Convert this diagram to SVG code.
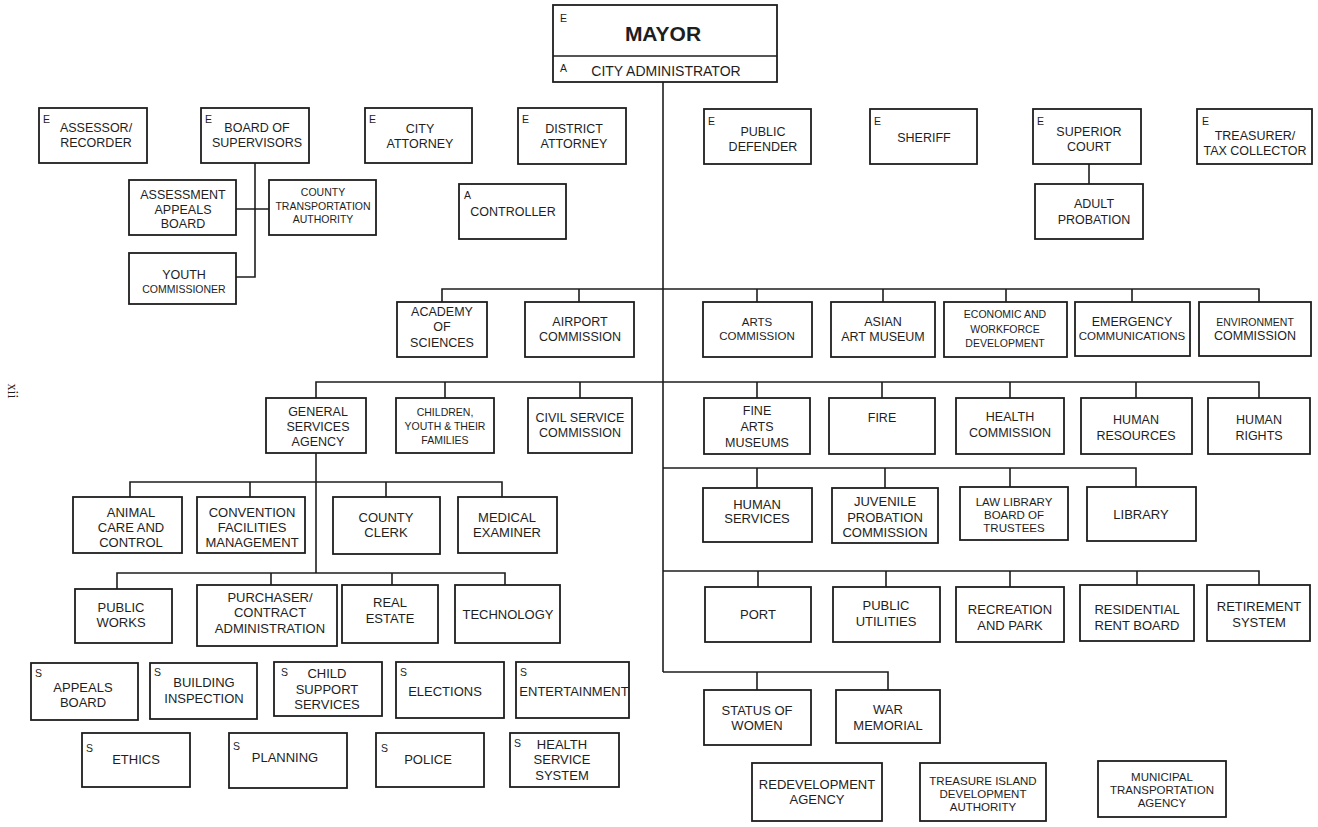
<svg xmlns="http://www.w3.org/2000/svg" width="1318" height="827" viewBox="0 0 1318 827">
<style>
rect{fill:#fff;stroke:#1e1e1e;stroke-width:1.8}
.c line,.c path{stroke:#1e1e1e;stroke-width:1.6;fill:none}
text{font-family:"Liberation Sans",Arial,sans-serif;fill:#1e1e1e;font-size:12.5px;text-anchor:middle}
.k{font-size:10.5px;text-anchor:start}
.sm{font-size:10.5px}
.md{font-size:11.5px}
.lg{font-size:13px}
</style>
<rect x="0" y="0" width="1318" height="827" style="stroke:none;fill:#fff"/>
<g class="c" id="connectors">
<line x1="663" y1="82" x2="663" y2="672"/>
<path d="M255 163V277H236M236 209H269"/>
<line x1="1089" y1="164" x2="1089" y2="184"/>
<path d="M442 302V289H1259V302M579 289V302M757 289V302M883 289V302M1006 289V302M1132 289V302"/>
<path d="M316 398V382H1259V398M445 382V398M580 382V398M757 382V398M882 382V398M1010 382V398M1136 382V398"/>
<path d="M316 453V573"/>
<path d="M130 497V482H502V497M250 482V497M386 482V497"/>
<path d="M117 589V573H505V585M271 573V585M392 573V585"/>
<path d="M663 468H1136V487M757 468V488M885 468V488M1010 468V487"/>
<path d="M663 571H1259V585M758 571V587M886 571V587M1010 571V587M1137 571V585"/>
<path d="M663 672H888V690M757 672V690"/>
</g>
<g id="mayor"><rect x="553" y="5" width="224" height="77"/><line x1="553" y1="56" x2="777" y2="56" style="stroke:#1e1e1e;stroke-width:1.6"/><text class="k" x="560" y="22">E</text><text x="663" y="41" style="font-size:21px;font-weight:bold">MAYOR</text><text class="k" x="560" y="72">A</text><text x="666" y="76" style="font-size:14px">CITY ADMINISTRATOR</text></g>
<g id="assessor"><rect x="39" y="108" width="108" height="55"/><text class="k" x="43" y="123">E</text><text x="96"><tspan x="96" y="132">ASSESSOR/</tspan><tspan x="96" y="147">RECORDER</tspan></text></g>
<g id="board"><rect x="201" y="108" width="108" height="55"/><text class="k" x="205" y="123">E</text><text><tspan x="257" y="132">BOARD OF</tspan><tspan x="257" y="147">SUPERVISORS</tspan></text></g>
<g id="cityattorney"><rect x="365" y="108" width="107" height="55"/><text class="k" x="369" y="123">E</text><text><tspan x="420" y="133">CITY</tspan><tspan x="420" y="148">ATTORNEY</tspan></text></g>
<g id="districtattorney"><rect x="518" y="108" width="108" height="56"/><text class="k" x="522" y="123">E</text><text><tspan x="574" y="133">DISTRICT</tspan><tspan x="574" y="148">ATTORNEY</tspan></text></g>
<g id="publicdefender"><rect x="704" y="109" width="107" height="55"/><text class="k" x="708" y="125">E</text><text><tspan x="763" y="136">PUBLIC</tspan><tspan x="763" y="151">DEFENDER</tspan></text></g>
<g id="sheriff"><rect x="870" y="109" width="107" height="55"/><text class="k" x="874" y="125">E</text><text x="924" y="142">SHERIFF</text></g>
<g id="superiorcourt"><rect x="1033" y="109" width="108" height="55"/><text class="k" x="1037" y="125">E</text><text><tspan x="1089" y="136">SUPERIOR</tspan><tspan x="1089" y="151">COURT</tspan></text></g>
<g id="treasurer"><rect x="1197" y="109" width="115" height="55"/><text class="k" x="1202" y="125">E</text><text><tspan x="1255" y="140">TREASURER/</tspan><tspan x="1255" y="155">TAX COLLECTOR</tspan></text></g>
<g id="adultprobation"><rect x="1035" y="184" width="108" height="55"/><text><tspan x="1094" y="208">ADULT</tspan><tspan x="1094" y="224">PROBATION</tspan></text></g>
<g id="assessmentappeals"><rect x="129" y="180" width="107" height="55"/><text><tspan x="183" y="199">ASSESSMENT</tspan><tspan x="183" y="213.5">APPEALS</tspan><tspan x="183" y="228">BOARD</tspan></text></g>
<g id="countytransportation"><rect x="269" y="180" width="107" height="55"/><text class="sm"><tspan x="323" y="196">COUNTY</tspan><tspan x="323" y="210">TRANSPORTATION</tspan><tspan x="323" y="223">AUTHORITY</tspan></text></g>
<g id="youth"><rect x="129" y="253" width="107" height="51"/><text><tspan x="184" y="279">YOUTH</tspan><tspan x="184" y="293" class="sm">COMMISSIONER</tspan></text></g>
<g id="controller"><rect x="459" y="184" width="107" height="55"/><text class="k" x="464" y="199">A</text><text x="513" y="216">CONTROLLER</text></g>
<g id="academy"><rect x="397" y="302" width="90" height="55"/><text><tspan x="442" y="316">ACADEMY</tspan><tspan x="442" y="331">OF</tspan><tspan x="442" y="347">SCIENCES</tspan></text></g>
<g id="airport"><rect x="525" y="302" width="109" height="55"/><text><tspan x="580" y="326">AIRPORT</tspan><tspan x="580" y="341">COMMISSION</tspan></text></g>
<g id="arts"><rect x="703" y="302" width="109" height="55"/><text class="md"><tspan x="757" y="326">ARTS</tspan><tspan x="757" y="340">COMMISSION</tspan></text></g>
<g id="asian"><rect x="831" y="302" width="104" height="55"/><text><tspan x="883" y="326">ASIAN</tspan><tspan x="883" y="341">ART MUSEUM</tspan></text></g>
<g id="economic"><rect x="944" y="302" width="123" height="55"/><text class="sm"><tspan x="1005" y="318">ECONOMIC AND</tspan><tspan x="1005" y="333">WORKFORCE</tspan><tspan x="1005" y="347">DEVELOPMENT</tspan></text></g>
<g id="emergency"><rect x="1075" y="302" width="115" height="54"/><text><tspan x="1132" y="326">EMERGENCY</tspan><tspan x="1132" y="340" class="md">COMMUNICATIONS</tspan></text></g>
<g id="environment"><rect x="1199" y="302" width="112" height="54"/><text><tspan x="1255" y="326" class="sm">ENVIRONMENT</tspan><tspan x="1255" y="340">COMMISSION</tspan></text></g>
<g id="gsa"><rect x="266" y="398" width="100" height="55"/><text><tspan x="318" y="416">GENERAL</tspan><tspan x="318" y="431">SERVICES</tspan><tspan x="318" y="446">AGENCY</tspan></text></g>
<g id="children"><rect x="396" y="398" width="98" height="55"/><text class="sm"><tspan x="445" y="416">CHILDREN,</tspan><tspan x="445" y="430">YOUTH &amp; THEIR</tspan><tspan x="445" y="444">FAMILIES</tspan></text></g>
<g id="civilservice"><rect x="528" y="398" width="104" height="55"/><text><tspan x="580" y="422">CIVIL SERVICE</tspan><tspan x="580" y="437">COMMISSION</tspan></text></g>
<g id="finearts"><rect x="704" y="398" width="106" height="56"/><text><tspan x="757" y="415">FINE</tspan><tspan x="757" y="431">ARTS</tspan><tspan x="757" y="447">MUSEUMS</tspan></text></g>
<g id="fire"><rect x="829" y="398" width="106" height="56"/><text x="882" y="422">FIRE</text></g>
<g id="health"><rect x="956" y="398" width="108" height="56"/><text><tspan x="1010" y="421">HEALTH</tspan><tspan x="1010" y="437">COMMISSION</tspan></text></g>
<g id="humanresources"><rect x="1081" y="398" width="111" height="56"/><text><tspan x="1136" y="424">HUMAN</tspan><tspan x="1136" y="440">RESOURCES</tspan></text></g>
<g id="humanrights"><rect x="1208" y="398" width="102" height="56"/><text><tspan x="1259" y="424">HUMAN</tspan><tspan x="1259" y="440">RIGHTS</tspan></text></g>
<g id="animal"><rect x="73" y="497" width="109" height="56"/><text class="lg"><tspan x="131" y="517">ANIMAL</tspan><tspan x="131" y="532">CARE AND</tspan><tspan x="131" y="547">CONTROL</tspan></text></g>
<g id="convention"><rect x="197" y="497" width="108" height="56"/><text class="lg"><tspan x="252" y="517">CONVENTION</tspan><tspan x="252" y="532">FACILITIES</tspan><tspan x="252" y="547">MANAGEMENT</tspan></text></g>
<g id="countyclerk"><rect x="333" y="497" width="107" height="57"/><text class="lg"><tspan x="386" y="522">COUNTY</tspan><tspan x="386" y="537">CLERK</tspan></text></g>
<g id="medical"><rect x="458" y="497" width="99" height="56"/><text class="lg"><tspan x="507" y="522">MEDICAL</tspan><tspan x="507" y="537">EXAMINER</tspan></text></g>
<g id="publicworks"><rect x="75" y="589" width="97" height="54"/><text class="lg"><tspan x="121" y="612">PUBLIC</tspan><tspan x="121" y="627">WORKS</tspan></text></g>
<g id="purchaser"><rect x="197" y="585" width="140" height="61"/><text class="lg"><tspan x="270" y="602">PURCHASER/</tspan><tspan x="270" y="617">CONTRACT</tspan><tspan x="270" y="633">ADMINISTRATION</tspan></text></g>
<g id="realestate"><rect x="342" y="585" width="96" height="58"/><text class="lg"><tspan x="390" y="607">REAL</tspan><tspan x="390" y="623">ESTATE</tspan></text></g>
<g id="technology"><rect x="455" y="585" width="105" height="58"/><text class="lg" x="508" y="619">TECHNOLOGY</text></g>
<g id="humanservices"><rect x="703" y="488" width="109" height="54"/><text class="lg"><tspan x="757" y="509">HUMAN</tspan><tspan x="757" y="523">SERVICES</tspan></text></g>
<g id="juvenile"><rect x="832" y="488" width="106" height="55"/><text class="lg"><tspan x="885" y="506">JUVENILE</tspan><tspan x="885" y="522">PROBATION</tspan><tspan x="885" y="537">COMMISSION</tspan></text></g>
<g id="lawlibrary"><rect x="960" y="487" width="108" height="53"/><text class="md"><tspan x="1014" y="506">LAW LIBRARY</tspan><tspan x="1014" y="519">BOARD OF</tspan><tspan x="1014" y="532">TRUSTEES</tspan></text></g>
<g id="library"><rect x="1087" y="487" width="109" height="54"/><text class="lg" x="1141" y="519">LIBRARY</text></g>
<g id="port"><rect x="705" y="587" width="106" height="55"/><text class="lg" x="758" y="619">PORT</text></g>
<g id="publicutilities"><rect x="833" y="587" width="107" height="55"/><text class="lg"><tspan x="886" y="610">PUBLIC</tspan><tspan x="886" y="626">UTILITIES</tspan></text></g>
<g id="recreation"><rect x="956" y="587" width="108" height="55"/><text class="lg"><tspan x="1010" y="614">RECREATION</tspan><tspan x="1010" y="630">AND PARK</tspan></text></g>
<g id="rentboard"><rect x="1080" y="585" width="114" height="56"/><text class="lg"><tspan x="1137" y="614">RESIDENTIAL</tspan><tspan x="1137" y="630">RENT BOARD</tspan></text></g>
<g id="retirement"><rect x="1207" y="585" width="103" height="56"/><text class="lg"><tspan x="1259" y="611">RETIREMENT</tspan><tspan x="1259" y="627">SYSTEM</tspan></text></g>
<g id="statuswomen"><rect x="704" y="690" width="107" height="55"/><text class="lg"><tspan x="757" y="715">STATUS OF</tspan><tspan x="757" y="730">WOMEN</tspan></text></g>
<g id="warmemorial"><rect x="836" y="690" width="104" height="53"/><text class="lg"><tspan x="888" y="714">WAR</tspan><tspan x="888" y="730">MEMORIAL</tspan></text></g>
<g id="redevelopment"><rect x="752" y="763" width="130" height="58"/><text class="lg"><tspan x="817" y="789">REDEVELOPMENT</tspan><tspan x="817" y="804">AGENCY</tspan></text></g>
<g id="treasureisland"><rect x="920" y="763" width="126" height="58"/><text class="md"><tspan x="983" y="785">TREASURE ISLAND</tspan><tspan x="983" y="798">DEVELOPMENT</tspan><tspan x="983" y="811">AUTHORITY</tspan></text></g>
<g id="municipal"><rect x="1098" y="761" width="128" height="56"/><text class="md"><tspan x="1162" y="781">MUNICIPAL</tspan><tspan x="1162" y="794">TRANSPORTATION</tspan><tspan x="1162" y="807">AGENCY</tspan></text></g>
<g id="appealsboard"><rect x="31" y="663" width="107" height="57"/><text class="k" x="35" y="677">S</text><text class="lg"><tspan x="83" y="692">APPEALS</tspan><tspan x="83" y="707">BOARD</tspan></text></g>
<g id="building"><rect x="150" y="663" width="107" height="56"/><text class="k" x="154" y="676">S</text><text class="lg"><tspan x="204" y="687">BUILDING</tspan><tspan x="204" y="703">INSPECTION</tspan></text></g>
<g id="childsupport"><rect x="274" y="662" width="108" height="54"/><text class="k" x="281" y="676">S</text><text class="lg"><tspan x="327" y="678">CHILD</tspan><tspan x="327" y="694">SUPPORT</tspan><tspan x="327" y="709">SERVICES</tspan></text></g>
<g id="elections"><rect x="396" y="662" width="108" height="56"/><text class="k" x="400" y="676">S</text><text class="lg" x="445" y="696">ELECTIONS</text></g>
<g id="entertainment"><rect x="516" y="662" width="113" height="56"/><text class="k" x="520" y="676">S</text><text class="lg" x="574" y="696">ENTERTAINMENT</text></g>
<g id="ethics"><rect x="82" y="733" width="108" height="54"/><text class="k" x="86" y="752">S</text><text class="lg" x="136" y="764">ETHICS</text></g>
<g id="planning"><rect x="229" y="733" width="118" height="55"/><text class="k" x="233" y="750">S</text><text class="lg" x="285" y="762">PLANNING</text></g>
<g id="police"><rect x="376" y="733" width="108" height="54"/><text class="k" x="381" y="752">S</text><text class="lg" x="428" y="764">POLICE</text></g>
<g id="healthservice"><rect x="510" y="733" width="109" height="54"/><text class="k" x="514" y="747">S</text><text class="lg"><tspan x="562" y="749">HEALTH</tspan><tspan x="562" y="764">SERVICE</tspan><tspan x="562" y="780">SYSTEM</tspan></text></g>
<text x="8" y="391" transform="rotate(90 8 391)" style="font-family:'Liberation Serif',serif;font-size:14px">xii</text>
</svg>
